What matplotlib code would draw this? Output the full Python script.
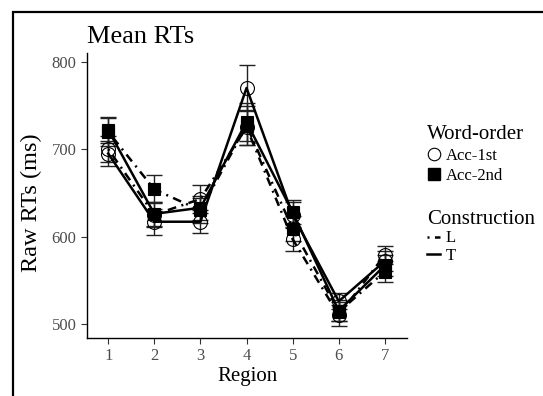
"""Mean RTs by region, word order and construction."""
import numpy as np
import matplotlib
matplotlib.use("Agg")
import matplotlib.pyplot as plt
from matplotlib.lines import Line2D
from matplotlib.patches import Rectangle

plt.rcParams["font.family"] = ["Liberation Serif", "DejaVu Serif"]

regions = [1, 2, 3, 4, 5, 6, 7]

# mean RTs (ms)
acc1_L = [700, 625, 643, 725, 597, 510, 579]
acc1_T = [695, 617, 617, 770, 625, 526, 572]
acc2_L = [720, 654, 630, 727, 609, 514, 560]
acc2_T = [722, 626, 633, 731, 628, 515, 567]

# standard errors
se1_L = [15, 14, 16, 20, 14, 12, 10]
se1_T = [14, 15, 13, 26, 15, 9, 11]
se2_L = [16, 16, 14, 22, 14, 11, 12]
se2_T = [15, 14, 14, 22, 14, 12, 12]

DOTDASH = (0, (0.8, 2.2, 3.5, 2.2))
series = [
    (acc1_L, se1_L, "o", "none", DOTDASH),
    (acc1_T, se1_T, "o", "none", "-"),
    (acc2_L, se2_L, "s", "black", DOTDASH),
    (acc2_T, se2_T, "s", "black", "-"),
]

fig = plt.figure(figsize=(5.43, 3.96), dpi=100)
ax = fig.add_axes([87 / 543, 1 - 338 / 396, 320 / 543, 285 / 396])

for vals, se, mk, fc, ls in series:
    ax.errorbar(regions, vals, yerr=se, fmt="none", ecolor="#222222",
                elinewidth=1.0, capsize=5.5, capthick=1.0, zorder=2)
    ax.plot(regions, vals, color="black", lw=1.8, ls=ls, zorder=3)
    ax.plot(regions, vals, ls="none", marker=mk, ms=10 if mk == "o" else 9,
            mfc=fc, mec="black", mew=0.8, zorder=4)

ax.set_xlim(0.54, 7.48)
ax.set_ylim(484, 810)
ax.set_xticks(regions)
ax.set_yticks([500, 600, 700, 800])
ax.spines["top"].set_visible(False)
ax.spines["right"].set_visible(False)
for s in ("left", "bottom"):
    ax.spines[s].set_linewidth(1.0)
ax.tick_params(labelsize=12, labelcolor="#4d4d4d", length=4, color="#333333")
ax.set_xlabel("Region", fontsize=15, labelpad=2)
ax.set_ylabel("Raw RTs (ms)", fontsize=17.5)
ax.yaxis.set_label_coords(-0.142, 0.475)
ax.set_title("Mean RTs", fontsize=19, loc="left", x=0.0, pad=7)

# legends
h_word = [Line2D([], [], ls="none", marker="o", ms=9, mfc="none", mec="black", mew=0.8),
          Line2D([], [], ls="none", marker="s", ms=8, mfc="black", mec="black")]
leg1 = fig.legend(h_word, ["Acc-1st", "Acc-2nd"], title="Word-order",
                  loc="upper left", bbox_to_anchor=(0.765, 0.715), frameon=False,
                  fontsize=12, title_fontsize=15, handlelength=0.8,
                  handletextpad=0.3, labelspacing=0.25, borderpad=0.2)
leg1._legend_box.align = "left"
h_con = [Line2D([], [], color="black", lw=1.8, ls=DOTDASH),
         Line2D([], [], color="black", lw=1.8, ls="-")]
leg2 = fig.legend(h_con, ["L", "T"], title="Construction",
                  loc="upper left", bbox_to_anchor=(0.765, 0.50), frameon=False,
                  fontsize=12, title_fontsize=15, handlelength=0.8,
                  handletextpad=0.3, labelspacing=0.1, borderpad=0.2)
leg2._legend_box.align = "left"

# outer frame (cropped at right and bottom)
fig.patches.append(Rectangle((13 / 543, -0.1), 1.2, 1.1 - 12 / 396,
                             transform=fig.transFigure, fill=False,
                             lw=1.6, ec="black"))

fig.savefig("out.png", dpi=100)
